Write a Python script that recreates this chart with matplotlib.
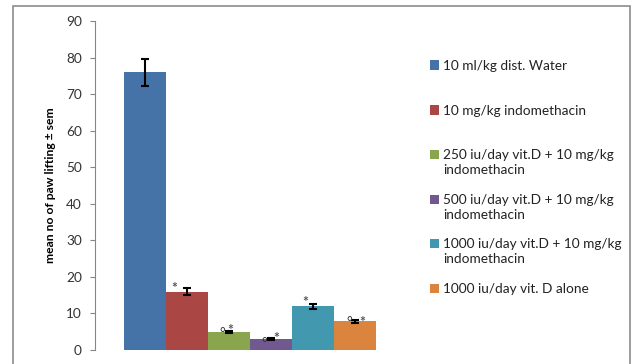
import matplotlib
matplotlib.use("Agg")
import matplotlib.pyplot as plt
from matplotlib.patches import Rectangle

plt.rcParams['font.family'] = ['Lato', 'DejaVu Sans']

labels = ["10 ml/kg dist. Water",
          "10 mg/kg indomethacin",
          "250 iu/day vit.D + 10 mg/kg\nindomethacin",
          "500 iu/day vit.D + 10 mg/kg\nindomethacin",
          "1000 iu/day vit.D + 10 mg/kg\nindomethacin",
          "1000 iu/day vit. D alone"]
means = [76, 16, 5, 3, 12, 7.8]
sems = [3.7, 0.9, 0.3, 0.2, 0.7, 0.5]
has_circle = [False, False, True, True, False, True]
has_star = [False, True, True, True, True, True]
colors = ["#4572A7", "#AA4643", "#89A54E", "#71588F", "#4198AF", "#DB843D"]
yticks = [0, 10, 20, 30, 40, 50, 60, 70, 80, 90]

# layout (pixel offsets of marks from bar centre / bar top)
star_off = [(0, 0), (-13, 7), (1, 5), (5, 5), (-8, 8), (7, 3)]
circ_off = [(0, 0), (0, 0), (-7, 3), (-7, 0), (0, 0), (-6, 3)]
legend_y = [65, 110, 154, 199, 243, 288]  # first-line centres, px from top

W, H = 633, 364
fig = plt.figure(figsize=(W/100, H/100), dpi=100)
ax = fig.add_axes([95/W, 1-350/H, (405-95)/W, (350-21)/H])

for i, (m, s, c, lab) in enumerate(zip(means, sems, colors, labels)):
    ax.bar(i, m, width=1.0, color=c, label=lab, zorder=2)
    ax.errorbar(i, m, yerr=s, fmt='none', ecolor='black', elinewidth=1.5,
                capsize=3, capthick=1.5, zorder=3)

# significance marks
for i, m in enumerate(means):
    if has_star[i]:
        dx, dy = star_off[i]
        ax.annotate("*", (i, m), xytext=(dx, dy - 7.5), textcoords='offset pixels',
                    ha='center', va='baseline', fontsize=10, color='#555555',
                    fontweight='bold', zorder=4)
    if has_circle[i]:
        dx, dy = circ_off[i]
        ax.annotate("°", (i, m), xytext=(dx, dy - 8), textcoords='offset pixels',
                    ha='center', va='baseline', fontsize=10, color='#333333',
                    zorder=4)

ax.set_xlim(-1.19, 6.19)
ax.set_ylim(0, 90)
ax.set_yticks(yticks)
ax.set_xticks([])
for sp in ['top', 'right', 'bottom']:
    ax.spines[sp].set_visible(False)
ax.spines['left'].set_color('#868686')
ax.tick_params(axis='y', direction='out', length=3.5, color='#868686',
               labelsize=9.8, labelcolor='#333333', pad=6)
ax.set_ylabel("mean no of paw lifting ± sem", fontsize=8.7, fontweight='bold',
              labelpad=7)

# legend
for lab, c, y in zip(labels, colors, legend_y):
    fig.patches.append(Rectangle((430/W, 1-(y+4.5)/H), 9/W, 9/H,
                                 transform=fig.transFigure, facecolor=c,
                                 edgecolor='none'))
    fig.text(443/W, 1-(y-5)/H, lab, ha='left', va='top', fontsize=9.8,
             color='#222222', linespacing=1.33)

fig.patches.append(Rectangle((13/W, -0.1), (630-13)/W, 1.1-6/H,
                             transform=fig.transFigure, fill=False,
                             edgecolor='#8c8c8c', linewidth=1.2))

fig.savefig("out.png", dpi=100)
